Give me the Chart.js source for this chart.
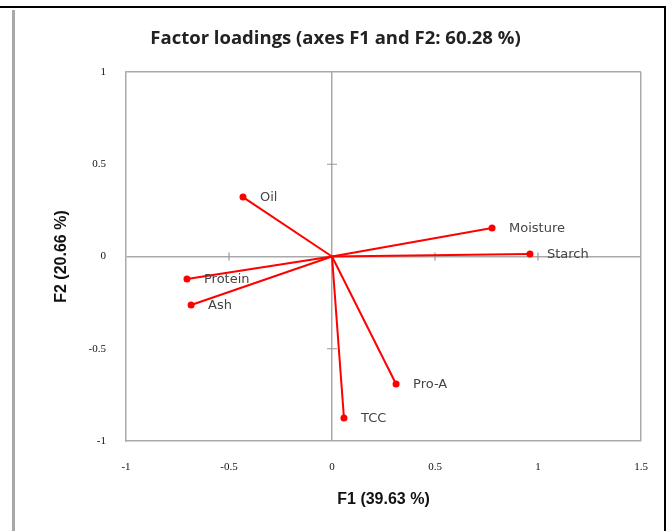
<!DOCTYPE html>
<html><head><meta charset="utf-8">
<script src="https://cdn.jsdelivr.net/npm/chart.js"></script>
<style>
html,body{margin:0;padding:0;background:#fff;}
#wrap{position:relative;width:671px;height:531px;overflow:hidden;background:#fff;}
canvas{position:absolute;left:0;top:0;}
.f{position:absolute;}
</style></head><body>
<div id="wrap">
<canvas id="c" width="671" height="531"></canvas>
<div class="f" style="left:0;top:6px;width:666px;height:2px;background:#000"></div>
<div class="f" style="left:664px;top:6px;width:2px;height:525px;background:#000"></div>
<div class="f" style="left:12px;top:10px;width:3px;height:521px;background:#a8a8a8"></div>
</div>
<script>
const variables = ['Oil','Moisture','Starch','Protein','Ash','Pro-A','TCC'];
const f1 = [-0.432, 0.777, 0.961, -0.704, -0.684, 0.311, 0.058];
const f2 = [0.322, 0.154, 0.014, -0.122, -0.263, -0.691, -0.875];
const xTicks = [-1, -0.5, 0, 0.5, 1, 1.5];
const yTicks = [-1, -0.5, 0, 0.5, 1];
const xTickLabels = ['-1', '-0.5', '0', '0.5', '1', '1.5'];
const yTickLabels = ['-1', '-0.5', '0', '0.5', '1'];

const GREY = '#a9a9a9';

const datasets = variables.map((v, i) => ({
  label: v,
  data: [{x: 0, y: 0}, {x: f1[i], y: f2[i]}],
  showLine: true,
  borderColor: '#ff0000',
  borderWidth: 2,
  pointRadius: [0, 3.5],
  pointHoverRadius: [0, 3.5],
  pointBackgroundColor: '#ff0000',
  pointBorderColor: '#ff0000',
  pointBorderWidth: 0
}));

const crossTicks = {
  id: 'crossTicks',
  beforeDatasetsDraw(chart) {
    const {ctx, scales: {x: xs, y: ys}} = chart;
    const x0 = xs.getPixelForValue(0), y0 = ys.getPixelForValue(0);
    ctx.save();
    ctx.strokeStyle = '#999';
    ctx.lineWidth = 1.2;
    ctx.beginPath();
    xTicks.forEach(v => {
      if (v === 0 || v === xs.min || v === xs.max) return;
      const px = xs.getPixelForValue(v);
      ctx.moveTo(px, y0 - 4); ctx.lineTo(px, y0 + 4);
    });
    yTicks.forEach(v => {
      if (v === 0 || v === ys.min || v === ys.max) return;
      const py = ys.getPixelForValue(v);
      ctx.moveTo(x0 - 5, py); ctx.lineTo(x0 + 5, py);
    });
    ctx.stroke();
    ctx.restore();
  }
};

const pointLabels = {
  id: 'pointLabels',
  afterDatasetsDraw(chart) {
    const {ctx, scales: {x: xs, y: ys}} = chart;
    ctx.save();
    ctx.font = '13px "DejaVu Sans"';
    ctx.fillStyle = '#444';
    ctx.textAlign = 'left';
    ctx.textBaseline = 'middle';
    variables.forEach((v, i) => {
      const px = xs.getPixelForValue(f1[i]);
      const py = ys.getPixelForValue(f2[i]);
      ctx.fillText(v, px + 17, py + 1);
    });
    ctx.restore();
  }
};

new Chart(document.getElementById('c'), {
  type: 'scatter',
  data: {datasets},
  plugins: [crossTicks, pointLabels],
  options: {
    responsive: false,
    animation: false,
    events: [],
    layout: {padding: 0},
    plugins: {
      legend: {display: false},
      tooltip: {enabled: false},
      title: {
        display: true,
        text: 'Factor loadings (axes F1 and F2: 60.28 %)',
        color: '#222',
        font: {family: 'Open Sans', size: 18.5, weight: 'bold', lineHeight: 1},
        padding: {top: 29, bottom: 24.5}
      }
    },
    scales: {
      x: {
        type: 'linear', min: -1, max: 1.5,
        afterBuildTicks: s => { s.ticks = xTicks.map(v => ({value: v})); },
        afterFit: s => { s.height = 90; },
        ticks: {
          autoSkip: false, maxRotation: 0, padding: 20,
          color: '#111',
          font: {family: 'Liberation Serif', size: 11},
          callback: (v, i) => xTickLabels[i]
        },
        grid: {
          drawTicks: false, lineWidth: 1.5,
          color: c => (c.tick && (c.tick.value === 0 || c.tick.value === 1.5)) ? GREY : 'rgba(0,0,0,0)'
        },
        border: {display: true, color: GREY, width: 1.5},
        title: {
          display: true, text: 'F1 (39.63 %)', color: '#111',
          font: {family: 'Liberation Sans', size: 16, weight: 'bold'},
          padding: {top: 0, bottom: 22}
        }
      },
      y: {
        type: 'linear', min: -1, max: 1,
        afterBuildTicks: s => { s.ticks = yTicks.map(v => ({value: v})); },
        afterFit: s => { s.width = 126; },
        ticks: {
          autoSkip: false, padding: 20,
          color: '#111',
          font: {family: 'Liberation Serif', size: 11},
          callback: (v, i) => yTickLabels[i]
        },
        grid: {
          drawTicks: false, lineWidth: 1.5,
          color: c => (c.tick && (c.tick.value === 0 || c.tick.value === 1)) ? GREY : 'rgba(0,0,0,0)'
        },
        border: {display: true, color: GREY, width: 1.5},
        title: {
          display: true, text: 'F2 (20.66 %)', color: '#111',
          font: {family: 'Liberation Sans', size: 16, weight: 'bold'},
          padding: {top: 52, bottom: 0}
        }
      },
      yRight: {
        type: 'linear', position: 'right', display: true,
        afterFit: s => { s.width = 30; },
        ticks: {display: false},
        grid: {display: false, drawOnChartArea: false},
        border: {display: false},
        title: {display: false}
      }
    }
  }
});
</script>
</body></html>
